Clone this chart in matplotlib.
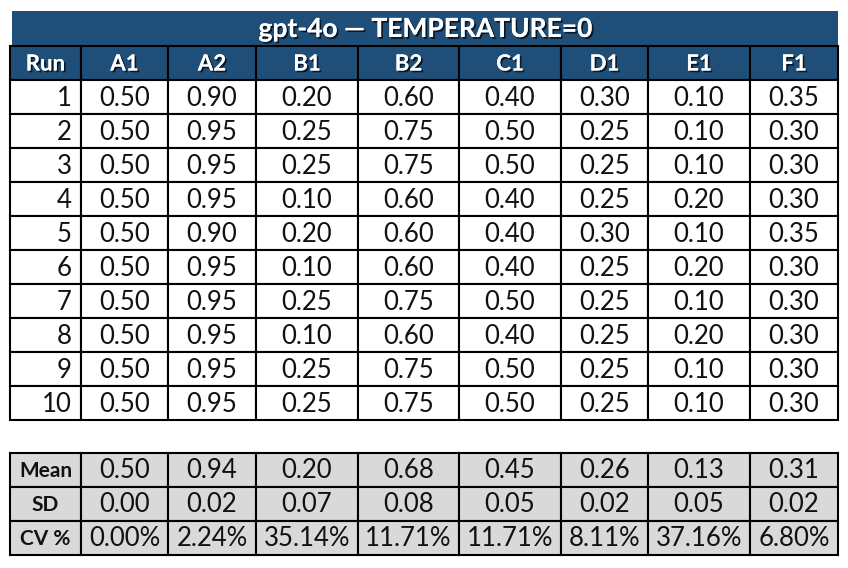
import matplotlib
matplotlib.use('Agg')
import matplotlib.pyplot as plt
import matplotlib.patheffects as pe
from matplotlib.patches import Rectangle

plt.rcParams['font.family'] = ['Lato', 'DejaVu Sans']

# 表格数据
title = 'gpt-4o — TEMPERATURE=0'
columns = ['A1', 'A2', 'B1', 'B2', 'C1', 'D1', 'E1', 'F1']
runs = [1, 2, 3, 4, 5, 6, 7, 8, 9, 10]

A1 = [0.50, 0.50, 0.50, 0.50, 0.50, 0.50, 0.50, 0.50, 0.50, 0.50]
A2 = [0.90, 0.95, 0.95, 0.95, 0.90, 0.95, 0.95, 0.95, 0.95, 0.95]
B1 = [0.20, 0.25, 0.25, 0.10, 0.20, 0.10, 0.25, 0.10, 0.25, 0.25]
B2 = [0.60, 0.75, 0.75, 0.60, 0.60, 0.60, 0.75, 0.60, 0.75, 0.75]
C1 = [0.40, 0.50, 0.50, 0.40, 0.40, 0.40, 0.50, 0.40, 0.50, 0.50]
D1 = [0.30, 0.25, 0.25, 0.25, 0.30, 0.25, 0.25, 0.25, 0.25, 0.25]
E1 = [0.10, 0.10, 0.10, 0.20, 0.10, 0.20, 0.10, 0.20, 0.10, 0.10]
F1 = [0.35, 0.30, 0.30, 0.30, 0.35, 0.30, 0.30, 0.30, 0.30, 0.30]
series = [A1, A2, B1, B2, C1, D1, E1, F1]

summary_labels = ['Mean', 'SD', 'CV %']
mean_vals = [0.50, 0.94, 0.20, 0.68, 0.45, 0.26, 0.13, 0.31]
sd_vals = [0.00, 0.02, 0.07, 0.08, 0.05, 0.02, 0.05, 0.02]
cv_vals = [0.00, 2.24, 35.14, 11.71, 11.71, 8.11, 37.16, 6.80]

# 版式（像素）
col_edges = [10, 81, 168, 256, 358, 459, 561, 648, 750, 838]
row_h = 34
header_top = 46
summary_top = 453
blue = '#1F4E79'
grey = '#D9D9D9'
ink = '#111111'
lw = 1.5

fig = plt.figure(figsize=(8.48, 5.68), dpi=100)
ax = fig.add_axes([0, 0, 1, 1])
ax.set_xlim(0, 848)
ax.set_ylim(568, 0)
ax.axis('off')

shadow = [pe.withSimplePatchShadow(offset=(1.3, -1.3), shadow_rgbFace='#06121f', alpha=0.9), pe.Normal()]

# 标题栏
ax.add_patch(Rectangle((12, 11), 838 - 12, header_top - 11, facecolor=blue, edgecolor='none'))
ax.text(425, 29, title, ha='center', va='center', fontsize=19, fontweight='bold',
        color='white', path_effects=shadow)


def cell(x0, x1, y0, face, text, **kw):
    ax.add_patch(Rectangle((x0, y0), x1 - x0, row_h, facecolor=face, edgecolor='black', linewidth=lw))
    ha = kw.pop('ha', 'center')
    tx = (x0 + x1) / 2 if ha == 'center' else x1 - 9
    ax.text(tx, y0 + row_h / 2 + 1, text, ha=ha, va='center', **kw)


# 表头
headers = ['Run'] + columns
for i, h in enumerate(headers):
    cell(col_edges[i], col_edges[i + 1], header_top, blue, h, fontsize=16,
         fontweight='bold', color='white', path_effects=shadow)

# 数据行
for r, run in enumerate(runs):
    y0 = header_top + row_h * (r + 1)
    cell(col_edges[0], col_edges[1], y0, 'white', str(run), ha='right', fontsize=18.5, color=ink)
    for c, vals in enumerate(series):
        cell(col_edges[c + 1], col_edges[c + 2], y0, 'white', f'{vals[r]:.2f}', fontsize=18.5, color=ink)

# 统计行
summary_text = [
    [f'{v:.2f}' for v in mean_vals],
    [f'{v:.2f}' for v in sd_vals],
    [f'{v:.2f}%' for v in cv_vals],
]
for r, lab in enumerate(summary_labels):
    y0 = summary_top + row_h * r
    cell(col_edges[0], col_edges[1], y0, grey, lab, fontsize=15, fontweight='bold', color=ink)
    for c, txt in enumerate(summary_text[r]):
        cell(col_edges[c + 1], col_edges[c + 2], y0, grey, txt, fontsize=18.5, color=ink)

fig.savefig('out.png', dpi=100)
